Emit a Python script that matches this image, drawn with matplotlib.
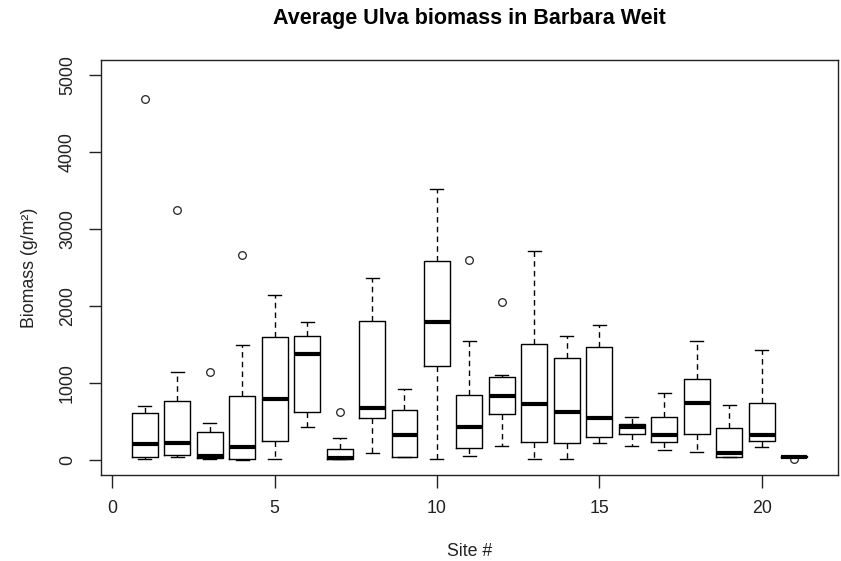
import matplotlib.pyplot as plt
import numpy as np

plt.rcParams['font.family'] = ['Liberation Sans', 'DejaVu Sans']

# per-site five-number summaries (g/m^2)
sites = np.arange(1, 22)
whislo = [9, 39, 10, 0, 4, 421, 4, 82, 39, 9, 43, 174, 9, 9, 212, 174, 126, 95, 39, 160, 38]
q1 = [39, 65, 22, 4, 238, 621, 4, 547, 39, 1224, 156, 595, 230, 217, 291, 330, 226, 330, 39, 243, 36]
med = [200, 212, 43, 169, 785, 1376, 20, 668, 317, 1793, 430, 829, 729, 625, 538, 421, 326, 742, 91, 317, 40]
q3 = [608, 760, 360, 829, 1593, 1606, 143, 1810, 642, 2587, 842, 1076, 1506, 1324, 1471, 464, 551, 1046, 408, 738, 44]
whishi = [694, 1137, 473, 1488, 2148, 1797, 277, 2366, 916, 3525, 1545, 1107, 2717, 1606, 1753, 551, 872, 1545, 707, 1428, 46]
outliers = {1: [4692], 2: [3242], 3: [1137], 4: [2660], 7: [625], 11: [2600], 12: [2057], 21: [5]}

stats = []
for i, s in enumerate(sites):
    stats.append(dict(whislo=whislo[i], q1=q1[i], med=med[i], q3=q3[i],
                      whishi=whishi[i], fliers=outliers.get(s, [])))

fig = plt.figure(figsize=(8.41, 5.61), dpi=100)
ax = fig.add_axes([0.1201, 0.1533, 0.8763, 0.7397])

ax.bxp(stats, positions=sites, widths=0.8, manage_ticks=False,
       boxprops=dict(color='black', linewidth=1.0),
       medianprops=dict(color='black', linewidth=3.0, solid_capstyle='butt'),
       whiskerprops=dict(color='black', linewidth=1.0, linestyle=(0, (4, 3))),
       capprops=dict(color='black', linewidth=1.0),
       capwidths=0.4,
       flierprops=dict(marker='o', markerfacecolor='none', markeredgecolor='#222222',
                       markersize=5.5, markeredgewidth=0.9))

ax.set_xlim(-0.34, 22.34)
ax.set_ylim(-200, 5200)
ax.set_xticks([0, 5, 10, 15, 20])
ax.set_yticks([0, 1000, 2000, 3000, 4000, 5000])
ax.tick_params(axis='both', labelsize=12.8, length=9, width=1.0, pad=9, colors='#222222')
for lab in ax.get_yticklabels():
    lab.set_rotation(90)
    lab.set_va('center')

for side in ['left', 'right', 'top', 'bottom']:
    ax.spines[side].set_linewidth(1.0)
    ax.spines[side].set_color('#222222')

ax.set_xlabel('Site #', fontsize=12.8, labelpad=19, color='#222222')
ax.set_ylabel('Biomass (g/m²)', fontsize=12.8, labelpad=15, color='#222222')
ax.set_title('Average Ulva biomass in Barbara Weit', fontsize=15.5, fontweight='bold', pad=26)

plt.savefig('out.png', dpi=100)
